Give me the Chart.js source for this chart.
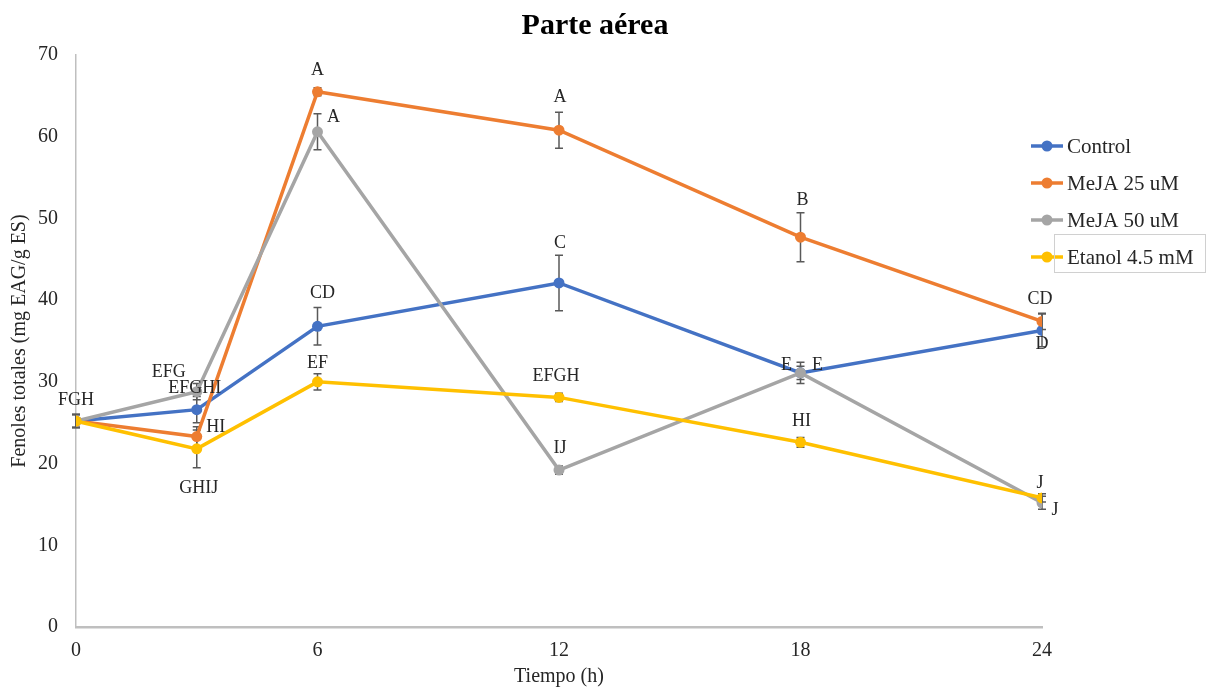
<!DOCTYPE html>
<html>
<head>
<meta charset="utf-8">
<script src="https://cdn.jsdelivr.net/npm/chart.js@4"></script>
<style>
  html, body { margin: 0; padding: 0; background: #fff; }
  #wrap { width: 1206px; height: 689px; position: relative; }
</style>
</head>
<body>
<div id="wrap"><canvas id="chart" width="1206" height="689"></canvas></div>
<script>
// time points (h)
const hours = [0, 3, 6, 12, 18, 24];
const xTicks = [0, 6, 12, 18, 24];

// series values (mg EAG/g ES)
const control = [25.2, 26.6, 36.8, 42.1, 31.1, 36.3];
const meja25  = [25.2, 23.3, 65.5, 60.8, 47.7, 37.4];
const meja50  = [25.2, 28.8, 60.6, 19.2, 31.1, 15.2];
const etanol  = [25.2, 21.8, 30.0, 28.1, 22.6, 15.8];

// error bars (+/-)
const controlErr = [0.8, 1.6, 2.3, 3.4, 0.8, 2.0];
const meja25Err  = [0.8, 1.2, 0.5, 2.2, 3.0, 1.0];
const meja50Err  = [0.8, 1.0, 2.2, 0.5, 1.3, 0.8];
const etanolErr  = [0.8, 2.3, 1.0, 0.5, 0.6, 0.5];

// significance letters
const controlLbl = ['FGH', 'EFGHI', 'CD', 'C', 'E', 'D'];
const meja25Lbl  = ['', 'HI', 'A', 'A', 'B', 'CD'];
const meja50Lbl  = ['', 'EFG', 'A', 'IJ', 'E', 'J'];
const etanolLbl  = ['', 'GHIJ', 'EF', 'EFGH', 'HI', 'J'];

const seriesNames = ['Control', 'MeJA 25 uM', 'MeJA 50 uM', 'Etanol 4.5 mM'];
const seriesColors = ['#4472C4', '#ED7D31', '#A5A5A5', '#FFC000'];

const FONT = '"Liberation Serif", "Times New Roman", serif';
const TXT = '#262626';

// label offsets [dx, dy] in px relative to the point (placement only)
const lblOffsets = [
  [[0, -21], [-2, -21], [5, -33], [1, -40], [-14, -8], [0, 14]],
  [null, [19, -9], [0, -22], [1, -33], [2, -37], [-2, -22]],
  [null, [-28, -19], [16, -15], [1, -22], [17, -8], [13, 7]],
  [null, [2, 39], [0, -19], [-3, -21], [1, -21], [-2, -15]]
];

function pairs(vals){ return hours.map((h, i) => ({ x: h, y: vals[i] })); }

const errs = [controlErr, meja25Err, meja50Err, etanolErr];
const lbls = [controlLbl, meja25Lbl, meja50Lbl, etanolLbl];

const extras = {
  id: 'extras',
  beforeDatasetsDraw(chart){
    // error bars under the lines/markers
    const {ctx, scales: {x, y}} = chart;
    ctx.save();
    ctx.strokeStyle = '#595959';
    ctx.lineWidth = 1.5;
    chart.data.datasets.forEach((ds, di) => {
      ds.data.forEach((p, i) => {
        const e = errs[di][i];
        const px = x.getPixelForValue(p.x);
        const top = y.getPixelForValue(p.y + e);
        const bot = y.getPixelForValue(p.y - e);
        ctx.beginPath();
        ctx.moveTo(px, top); ctx.lineTo(px, bot);
        ctx.moveTo(px - 4, top); ctx.lineTo(px + 4, top);
        ctx.moveTo(px - 4, bot); ctx.lineTo(px + 4, bot);
        ctx.stroke();
      });
    });
    ctx.restore();
  },
  afterDraw(chart){
    const {ctx, scales: {x, y}} = chart;
    ctx.save();
    // title
    ctx.font = 'bold 30px ' + FONT;
    ctx.fillStyle = '#000';
    ctx.textAlign = 'center';
    ctx.textBaseline = 'middle';
    ctx.fillText('Parte aérea', 595, 26);
    // letters
    ctx.font = '18px ' + FONT;
    ctx.fillStyle = TXT;
    chart.data.datasets.forEach((ds, di) => {
      ds.data.forEach((p, i) => {
        const t = lbls[di][i];
        const off = lblOffsets[di][i];
        if (!t || !off) return;
        ctx.fillText(t, x.getPixelForValue(p.x) + off[0], y.getPixelForValue(p.y) + off[1]);
      });
    });
    // legend
    ctx.font = '21px ' + FONT;
    ctx.textAlign = 'left';
    seriesNames.forEach((name, i) => {
      const ly = 146 + i * 37;
      ctx.strokeStyle = seriesColors[i];
      ctx.lineWidth = 3.5;
      ctx.beginPath(); ctx.moveTo(1031, ly); ctx.lineTo(1063, ly); ctx.stroke();
      ctx.fillStyle = seriesColors[i];
      ctx.beginPath(); ctx.arc(1047, ly, 5.5, 0, Math.PI * 2); ctx.fill();
      ctx.fillStyle = TXT;
      ctx.fillText(name, 1067, ly + 1);
    });
    // selection box around last legend item
    ctx.strokeStyle = '#d0d0d0';
    ctx.lineWidth = 1;
    ctx.strokeRect(1054.5, 234.5, 151, 38);
    ctx.restore();
  }
};

new Chart(document.getElementById('chart').getContext('2d'), {
  type: 'line',
  data: {
    datasets: seriesNames.map((name, i) => ({
      label: name,
      data: pairs([control, meja25, meja50, etanol][i]),
      borderColor: seriesColors[i],
      backgroundColor: seriesColors[i],
      borderWidth: 3.5,
      pointRadius: 5.5,
      pointBorderWidth: 0,
      tension: 0,
      fill: false,
      order: 4 - i
    }))
  },
  options: {
    responsive: false,
    animation: false,
    layout: { padding: { left: 0, right: 164, top: 55, bottom: 0 } },
    plugins: {
      legend: { display: false },
      tooltip: { enabled: false },
      title: { display: false }
    },
    scales: {
      x: {
        type: 'linear',
        min: 0, max: 24,
        afterBuildTicks: s => { s.ticks = xTicks.map(v => ({ value: v })); },
        afterFit: s => { s.height = 62; },
        grid: { display: false, drawTicks: false },
        border: { display: true, color: '#bfbfbf', width: 2.5 },
        ticks: { font: { family: FONT, size: 20 }, color: TXT, padding: 12 },
        title: { display: true, text: 'Tiempo (h)', font: { family: FONT, size: 20 }, color: TXT, padding: { top: 0, bottom: 0 } }
      },
      y: {
        min: 0, max: 70,
        afterFit: s => { s.width = 76; },
        grid: { display: false, drawTicks: false },
        border: { display: true, color: '#bfbfbf', width: 1.5 },
        ticks: { stepSize: 10, font: { family: FONT, size: 20 }, color: TXT, padding: 18 },
        title: { display: true, text: 'Fenoles totales (mg EAG/g ES)', font: { family: FONT, size: 20 }, color: TXT, padding: { top: 8, bottom: 0 } }
      }
    }
  },
  plugins: [extras]
});
</script>
</body>
</html>
